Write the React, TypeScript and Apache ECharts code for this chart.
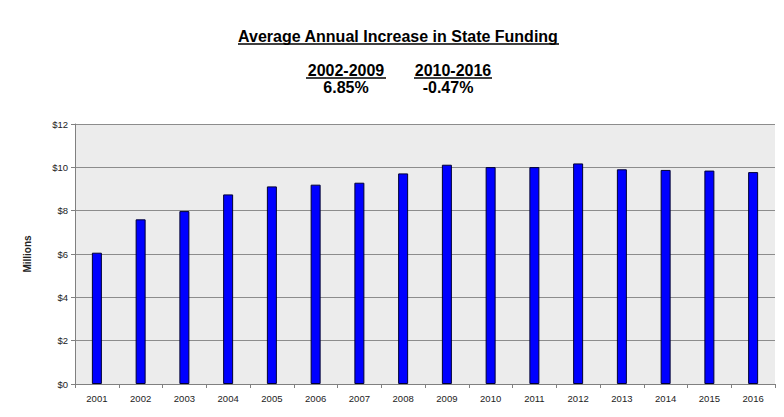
import React, { useEffect, useRef } from "react";
import * as echarts from "echarts";

const categories = ["2001","2002","2003","2004","2005","2006","2007","2008","2009","2010","2011","2012","2013","2014","2015","2016"];
const funding = [6.06, 7.6, 7.98, 8.75, 9.12, 9.2, 9.29, 9.72, 10.12, 10.01, 10.01, 10.18, 9.91, 9.88, 9.85, 9.78];
const titleText = "Average Annual Increase in State Funding";
const periods = ["2002-2009", "2010-2016"];
const rates = ["6.85%", "-0.47%"];

export default function App() {
  const ref = useRef<HTMLDivElement>(null);
  useEffect(() => {
    const chart = echarts.init(ref.current!, null, { renderer: "svg" });
    const font = "Arial, 'Liberation Sans', sans-serif";
    chart.setOption({
      animation: false,
      backgroundColor: "#ffffff",
      grid: { left: 75, right: 9, top: 124, bottom: 33, show: true, backgroundColor: "#ececec", borderWidth: 0 },
      xAxis: {
        type: "category",
        data: categories,
        axisLine: { lineStyle: { color: "#808080", width: 1 } },
        axisTick: { show: true, alignWithLabel: false, length: 4, lineStyle: { color: "#808080" } },
        axisLabel: { color: "#222", fontSize: 9.5, fontFamily: font, margin: 9 },
      },
      yAxis: {
        type: "value",
        min: 0,
        max: 12,
        interval: 2,
        name: "Millions",
        nameLocation: "middle",
        nameGap: 43,
        nameRotate: 90,
        nameTextStyle: { color: "#222", fontSize: 10, fontWeight: "bold", fontFamily: font },
        axisLine: { show: true, lineStyle: { color: "#808080" } },
        axisTick: { show: true, length: 4, lineStyle: { color: "#808080" } },
        axisLabel: { color: "#222", fontSize: 9.5, fontFamily: font, margin: 7, formatter: (v: number) => "$" + v },
        splitLine: { lineStyle: { color: "#8c8c8c", width: 1 } },
      },
      series: [
        {
          type: "bar",
          data: funding,
          barWidth: 10,
          itemStyle: { color: "#0000ff", borderColor: "#000033", borderWidth: 1 },
        },
      ],
      graphic: [
        { type: "text", x: 398, y: 36, style: { text: titleText, font: "bold 16px " + font, fill: "#000", align: "center", verticalAlign: "middle" } },
        { type: "line", shape: { x1: 238, y1: 44, x2: 559, y2: 44 }, style: { stroke: "#000", lineWidth: 1.3 } },
        { type: "text", x: 346, y: 70, style: { text: periods[0], font: "bold 16px " + font, fill: "#000", align: "center", verticalAlign: "middle" } },
        { type: "line", shape: { x1: 306, y1: 78, x2: 386, y2: 78 }, style: { stroke: "#000", lineWidth: 1.3 } },
        { type: "text", x: 453, y: 70, style: { text: periods[1], font: "bold 16px " + font, fill: "#000", align: "center", verticalAlign: "middle" } },
        { type: "line", shape: { x1: 414, y1: 78, x2: 492, y2: 78 }, style: { stroke: "#000", lineWidth: 1.3 } },
        { type: "text", x: 346, y: 87, style: { text: rates[0], font: "bold 16px " + font, fill: "#000", align: "center", verticalAlign: "middle" } },
        { type: "text", x: 448, y: 87, style: { text: rates[1], font: "bold 16px " + font, fill: "#000", align: "center", verticalAlign: "middle" } },
      ],
    });
    return () => chart.dispose();
  }, []);
  return <div ref={ref} style={{ width: 784, height: 417, position: "absolute", left: 0, top: 0 }} />;
}
